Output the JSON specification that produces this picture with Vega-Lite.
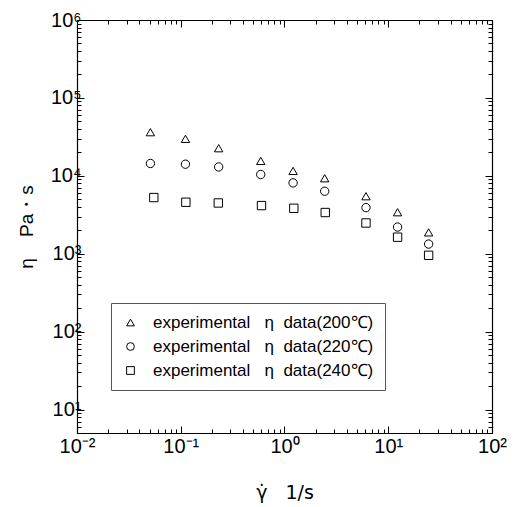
{
  "$schema": "https://vega.github.io/schema/vega-lite/v6.json",
  "width": 415,
  "height": 413,
  "autosize": {"type": "none"},
  "padding": {"left": 77, "top": 20, "right": 23, "bottom": 74},
  "background": "white",
  "config": {
    "font": "Liberation Sans",
    "view": {"stroke": "black", "strokeWidth": 1},
    "axis": {"grid": false, "domainColor": "black", "tickColor": "black", "labelColor": "black", "titleColor": "black", "labelFont": "Liberation Sans", "titleFont": "Liberation Sans", "domainWidth": 1.2, "tickWidth": 1}
  },
  "data": {
    "values": [
      {"rate": 0.051, "eta": 36300, "series": "experimental\u00a0\u00a0\u00a0η\u00a0\u00a0data(200℃)"},
      {"rate": 0.111, "eta": 29800, "series": "experimental\u00a0\u00a0\u00a0η\u00a0\u00a0data(200℃)"},
      {"rate": 0.232, "eta": 22600, "series": "experimental\u00a0\u00a0\u00a0η\u00a0\u00a0data(200℃)"},
      {"rate": 0.59, "eta": 15550, "series": "experimental\u00a0\u00a0\u00a0η\u00a0\u00a0data(200℃)"},
      {"rate": 1.21, "eta": 11560, "series": "experimental\u00a0\u00a0\u00a0η\u00a0\u00a0data(200℃)"},
      {"rate": 2.44, "eta": 9310, "series": "experimental\u00a0\u00a0\u00a0η\u00a0\u00a0data(200℃)"},
      {"rate": 6.1, "eta": 5470, "series": "experimental\u00a0\u00a0\u00a0η\u00a0\u00a0data(200℃)"},
      {"rate": 12.3, "eta": 3410, "series": "experimental\u00a0\u00a0\u00a0η\u00a0\u00a0data(200℃)"},
      {"rate": 24.5, "eta": 1880, "series": "experimental\u00a0\u00a0\u00a0η\u00a0\u00a0data(200℃)"},
      {"rate": 0.051, "eta": 14400, "series": "experimental\u00a0\u00a0\u00a0η\u00a0\u00a0data(220℃)"},
      {"rate": 0.111, "eta": 14100, "series": "experimental\u00a0\u00a0\u00a0η\u00a0\u00a0data(220℃)"},
      {"rate": 0.232, "eta": 13000, "series": "experimental\u00a0\u00a0\u00a0η\u00a0\u00a0data(220℃)"},
      {"rate": 0.59, "eta": 10400, "series": "experimental\u00a0\u00a0\u00a0η\u00a0\u00a0data(220℃)"},
      {"rate": 1.21, "eta": 8110, "series": "experimental\u00a0\u00a0\u00a0η\u00a0\u00a0data(220℃)"},
      {"rate": 2.44, "eta": 6340, "series": "experimental\u00a0\u00a0\u00a0η\u00a0\u00a0data(220℃)"},
      {"rate": 6.1, "eta": 3910, "series": "experimental\u00a0\u00a0\u00a0η\u00a0\u00a0data(220℃)"},
      {"rate": 12.3, "eta": 2200, "series": "experimental\u00a0\u00a0\u00a0η\u00a0\u00a0data(220℃)"},
      {"rate": 24.5, "eta": 1330, "series": "experimental\u00a0\u00a0\u00a0η\u00a0\u00a0data(220℃)"},
      {"rate": 0.055, "eta": 5260, "series": "experimental\u00a0\u00a0\u00a0η\u00a0\u00a0data(240℃)"},
      {"rate": 0.112, "eta": 4580, "series": "experimental\u00a0\u00a0\u00a0η\u00a0\u00a0data(240℃)"},
      {"rate": 0.23, "eta": 4480, "series": "experimental\u00a0\u00a0\u00a0η\u00a0\u00a0data(240℃)"},
      {"rate": 0.6, "eta": 4150, "series": "experimental\u00a0\u00a0\u00a0η\u00a0\u00a0data(240℃)"},
      {"rate": 1.23, "eta": 3830, "series": "experimental\u00a0\u00a0\u00a0η\u00a0\u00a0data(240℃)"},
      {"rate": 2.47, "eta": 3380, "series": "experimental\u00a0\u00a0\u00a0η\u00a0\u00a0data(240℃)"},
      {"rate": 6.1, "eta": 2480, "series": "experimental\u00a0\u00a0\u00a0η\u00a0\u00a0data(240℃)"},
      {"rate": 12.3, "eta": 1630, "series": "experimental\u00a0\u00a0\u00a0η\u00a0\u00a0data(240℃)"},
      {"rate": 24.5, "eta": 955, "series": "experimental\u00a0\u00a0\u00a0η\u00a0\u00a0data(240℃)"}
    ]
  },
  "layer": [
    {
      "mark": {"type": "point", "filled": false, "color": "black", "strokeWidth": 1, "size": 70, "opacity": 1},
      "encoding": {
        "x": {
          "field": "rate", "type": "quantitative",
          "scale": {"type": "log", "domain": [0.01, 100], "nice": false},
          "axis": {
            "orient": "bottom",
            "title": "γ̇\u00a0\u00a0\u00a01/s",
            "titleFontSize": 19, "titleFontWeight": "normal", "titlePadding": 24,
            "titleFont": "DejaVu Sans",
            "labelFontSize": 20, "labelPadding": 10, "labelFlush": false, "labelOverlap": false,
            "values": [0.01,0.02,0.03,0.04,0.05,0.06,0.07,0.08,0.09,0.1,0.2,0.3,0.4,0.5,0.6,0.7,0.8,0.9,1,2,3,4,5,6,7,8,9,10,20,30,40,50,60,70,80,90,100],
            "labelExpr": "indexof([0.01,0.1,1,10,100], datum.value) >= 0 ? ['10⁻²','10⁻¹','10⁰','10¹','10²'][indexof([0.01,0.1,1,10,100], datum.value)] : ''",
            "tickSize": {"condition": {"test": "indexof([0.01,0.1,1,10,100], datum.value) >= 0", "value": -7}, "value": -4}
          }
        },
        "y": {
          "field": "eta", "type": "quantitative",
          "scale": {"type": "log", "domain": [5, 1000000], "nice": false},
          "axis": {
            "orient": "left",
            "title": "η\u00a0\u00a0\u00a0\u00a0Pa・s",
            "titleFontSize": 19, "titleFontWeight": "normal", "titlePadding": 14,
            "labelFontSize": 20, "labelPadding": 3, "labelFlush": false, "labelOverlap": false,
            "values": [5,6,7,8,9,10,20,30,40,50,60,70,80,90,100,200,300,400,500,600,700,800,900,1000,2000,3000,4000,5000,6000,7000,8000,9000,10000,20000,30000,40000,50000,60000,70000,80000,90000,100000,200000,300000,400000,500000,600000,700000,800000,900000,1000000],
            "labelExpr": "indexof([10,100,1000,10000,100000,1000000], datum.value) >= 0 ? ['10¹','10²','10³','10⁴','10⁵','10⁶'][indexof([10,100,1000,10000,100000,1000000], datum.value)] : ''",
            "tickSize": {"condition": {"test": "indexof([10,100,1000,10000,100000,1000000], datum.value) >= 0", "value": -7}, "value": -4}
          }
        },
        "shape": {
          "field": "series", "type": "nominal",
          "scale": {"domain": ["experimental\u00a0\u00a0\u00a0η\u00a0\u00a0data(200℃)", "experimental\u00a0\u00a0\u00a0η\u00a0\u00a0data(220℃)", "experimental\u00a0\u00a0\u00a0η\u00a0\u00a0data(240℃)"], "range": ["triangle-up", "circle", "square"]},
          "legend": {
            "title": null,
            "orient": "none",
            "legendX": 34,
            "legendY": 283,
            "direction": "vertical",
            "fillColor": "white",
            "strokeColor": "#555555",
            "padding": 11,
            "rowPadding": 6,
            "labelFontSize": 17,
            "labelFont": "Liberation Sans",
            "labelColor": "black",
            "labelLimit": 0,
            "labelOffset": 14,
            "symbolSize": 60,
            "symbolStrokeWidth": 1,
            "symbolOffset": 0
          }
        }
      }
    },
    {
      "mark": {"type": "point", "opacity": 0},
      "encoding": {
        "x": {
          "field": "rate", "type": "quantitative",
          "scale": {"type": "log", "domain": [0.01, 100], "nice": false},
          "axis": {
            "orient": "top", "title": null, "labels": false,
            "values": [0.01,0.02,0.03,0.04,0.05,0.06,0.07,0.08,0.09,0.1,0.2,0.3,0.4,0.5,0.6,0.7,0.8,0.9,1,2,3,4,5,6,7,8,9,10,20,30,40,50,60,70,80,90,100],
            "tickSize": {"condition": {"test": "indexof([0.01,0.1,1,10,100], datum.value) >= 0", "value": -7}, "value": -4}
          }
        },
        "y": {
          "field": "eta", "type": "quantitative",
          "scale": {"type": "log", "domain": [5, 1000000], "nice": false},
          "axis": {
            "orient": "right", "title": null, "labels": false,
            "values": [5,6,7,8,9,10,20,30,40,50,60,70,80,90,100,200,300,400,500,600,700,800,900,1000,2000,3000,4000,5000,6000,7000,8000,9000,10000,20000,30000,40000,50000,60000,70000,80000,90000,100000,200000,300000,400000,500000,600000,700000,800000,900000,1000000],
            "tickSize": {"condition": {"test": "indexof([10,100,1000,10000,100000,1000000], datum.value) >= 0", "value": -7}, "value": -4}
          }
        }
      }
    }
  ],
  "resolve": {"axis": {"x": "independent", "y": "independent"}}
}
